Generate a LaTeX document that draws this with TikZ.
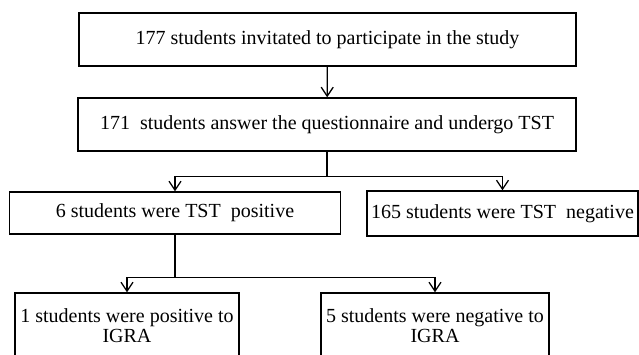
\documentclass[tikz,border=0pt]{standalone}
\usepackage{fontspec}
\setmainfont{Liberation Serif}
\usepackage{tikz}
\usetikzlibrary{positioning,arrows.meta}
\tikzstyle{box}  = [rectangle, draw, line width=1.3bp, inner sep=2bp,
                    align=center, text centered,
                    font=\fontsize{20bp}{19.5bp}\selectfont]
\tikzstyle{ptr}  = [draw, line width=1.3bp, -{Straight Barb[length=9bp,width=12bp]}]
\tikzstyle{link} = [draw, line width=1.3bp]

\begin{document}
\begin{tikzpicture}[x=1bp, y=-1bp]
		\clip (0,0) rectangle (639,354);
		\node[box, minimum width=497bp, minimum height=53bp] (invited) at (327.5,39.5)
			{177 students invitated to participate in the study};
		\node[box, minimum width=498bp, minimum height=53bp] (answered) at (327,124.5)
			{171~ students answer the questionnaire and undergo TST};
		\node[box, minimum width=331bp, minimum height=42bp] (pos) at (175,213)
			{6 students were TST~ positive};
		\node[box, minimum width=271bp, minimum height=45bp] (neg) at (502.5,213.5)
			{165 students were TST~ negative};
		\node[box, minimum width=224bp, minimum height=65bp] (igrapos) at (127,325.5)
			{1 students were positive to\\IGRA};
		\node[box, minimum width=228bp, minimum height=65bp] (igraneg) at (435,325.5)
			{5 students were negative to\\IGRA};

		\coordinate[below=25bp of answered.south] (split1);
		\coordinate[below=43bp of pos.south] (split2);

		\path[ptr] (invited) -- (answered);
		\path[link] (answered.south) -- (split1);
		\path[ptr] (split1) -| (pos);
		\path[ptr] (split1) -| (neg);
		\path[link] (pos.south) -- (split2);
		\path[ptr] (split2) -| (igrapos);
		\path[ptr] (split2) -| (igraneg);
	\end{tikzpicture}
\end{document}
